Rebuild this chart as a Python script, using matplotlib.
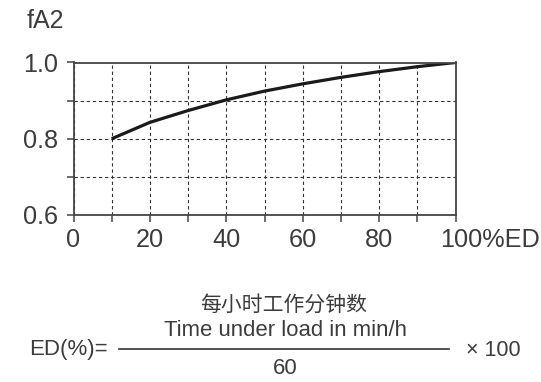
import matplotlib
matplotlib.use("Agg")
import matplotlib.pyplot as plt
from matplotlib.lines import Line2D
from matplotlib.ticker import MultipleLocator
from matplotlib.transforms import ScaledTranslation

plt.rcParams['font.family'] = ['Liberation Sans', 'Noto Sans CJK SC', 'DejaVu Sans']

# data
ed = [10, 20, 30, 40, 50, 60, 70, 80, 90, 100]
fa2 = [0.800, 0.843, 0.874, 0.902, 0.925, 0.944, 0.961, 0.976, 0.989, 1.000]
x_major = [0, 20, 40, 60, 80, 100]
x_labels = ["0", "20", "40", "60", "80", "100%ED"]
y_major = [0.6, 0.8, 1.0]
y_labels = ["0.6", "0.8", "1.0"]

TXT = "#3c3c3c"
AX = "#444444"
W, H = 541, 382
fig = plt.figure(figsize=(W / 100, H / 100), dpi=100)
ax = fig.add_axes([73.5 / W, 1 - 215 / H, (455.5 - 73.5) / W, (215 - 62.5) / H])

ax.plot(ed, fa2, color="#1a1a1a", lw=2.3, solid_capstyle="butt")

ax.set_xlim(0, 100)
ax.set_ylim(0.6, 1.0)
ax.set_xticks(x_major)
ax.set_xticklabels(x_labels)
ax.set_yticks(y_major)
ax.set_yticklabels(y_labels)
ax.xaxis.set_minor_locator(MultipleLocator(10))
ax.yaxis.set_minor_locator(MultipleLocator(0.1))

for s in ax.spines.values():
    s.set_color(AX)
    s.set_linewidth(1.3)

ax.tick_params(which="both", direction="out", length=5, width=1.1, color=AX,
               labelsize=18.2, labelcolor=TXT)
ax.tick_params(axis="x", pad=4.5)
ax.tick_params(axis="y", pad=6)
last = ax.get_xticklabels()[-1]
last.set_horizontalalignment("left")
last.set_transform(last.get_transform() + ScaledTranslation(-15 / 100, 0, fig.dpi_scale_trans))

ax.grid(True, which="both", color="#333333", lw=0.8, ls=(0, (3, 2.5)))

fig.text(27 / W, 1 - 21.5 / H, "fA2", fontsize=18, color=TXT, va="center", ha="left")

# formula
fig.text(284 / W, 1 - 305 / H, "每小时工作分钟数", fontsize=15, color=TXT, ha="center", va="center",
         family=['Noto Sans CJK SC', 'DejaVu Sans'])
fig.text(286 / W, 1 - 331 / H, "Time under load in min/h", fontsize=15.9, color=TXT, ha="center", va="center")
fig.text(285 / W, 1 - 368 / H, "60", fontsize=15.9, color=TXT, ha="center", va="center")
fig.text(29 / W, 1 - 350 / H, "ED(%)=", fontsize=16, color=TXT, ha="left", va="center")
fig.text(466 / W, 1 - 350 / H, "× 100", fontsize=15.5, color=TXT, ha="left", va="center")
fig.add_artist(Line2D([119 / W, 449 / W], [1 - 349 / H, 1 - 349 / H], color="#333333", lw=1.2,
                      transform=fig.transFigure))

fig.savefig("out.png", dpi=100)
